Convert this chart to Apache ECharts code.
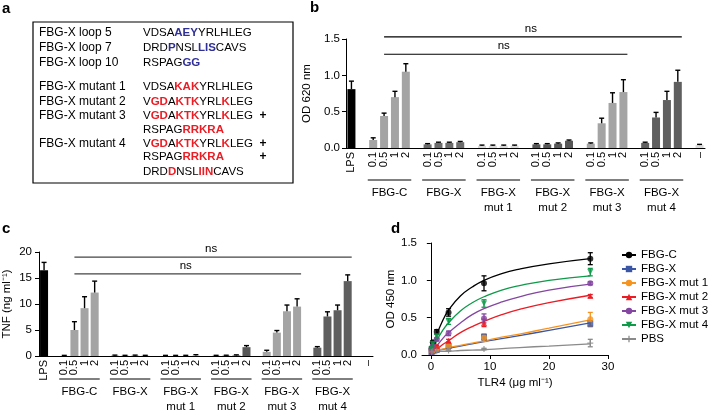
<!DOCTYPE html>
<html>
<head>
<meta charset="utf-8">
<script src="https://cdn.jsdelivr.net/npm/echarts@6.0.0/dist/echarts.min.js"></script>
<style>
html,body{margin:0;padding:0;background:#fff;}
#chart{width:711px;height:412px;}
</style>
</head>
<body>
<div id="chart"></div>
<script>
// ================= DATA =================
// Panel a – sequence table
const seqLabels = ['FBG-X loop 5', 'FBG-X loop 7', 'FBG-X loop 10', 'FBG-X mutant 1', 'FBG-X mutant 2',
  'FBG-X mutant 3', '', 'FBG-X mutant 4', '', ''];
const seqTexts = [
  '{k|VDSA}{b|AEY}{k|YRLHLEG}',
  '{k|DRD}{b|P}{k|NSL}{b|LIS}{k|CAVS}',
  '{k|RSPAG}{b|GG}',
  '{k|VDSA}{r|KAK}{k|YRLHLEG}',
  '{k|V}{r|GD}{k|A}{r|KTK}{k|YRL}{r|K}{k|LEG}',
  '{k|V}{r|GD}{k|A}{r|KTK}{k|YRL}{r|K}{k|LEG}',
  '{k|RSPAG}{r|RRKRA}',
  '{k|V}{r|GD}{k|A}{r|KTK}{k|YRL}{r|K}{k|LEG}',
  '{k|RSPAG}{r|RRKRA}',
  '{k|DRD}{r|D}{k|NSL}{r|IIN}{k|CAVS}'
];
const seqPlus = [false, false, false, false, false, true, false, true, true, false];

// Panels b and c – categories
const doseLabels = ['0.1', '0.5', '1', '2'];
const groupLabels = ['FBG-C', 'FBG-X', 'FBG-X\nmut 1', 'FBG-X\nmut 2', 'FBG-X\nmut 3', 'FBG-X\nmut 4'];
const lpsLabel = 'LPS';
const pbsLabel = '–';

// Panel b – OD 620 nm (mean and upper error)
const odLPS = 0.81, odLPSErr = 0.11;
const odPBS = 0.04, odPBSErr = 0.01;
const odFbgC = [0.11, 0.44, 0.70, 1.05];
const odFbgCErr = [0.03, 0.04, 0.08, 0.11];
const odFbgX = [0.05, 0.07, 0.07, 0.08];
const odFbgXErr = [0.01, 0.01, 0.01, 0.01];
const odMut1 = [0.03, 0.03, 0.03, 0.03];
const odMut1Err = [0.01, 0.01, 0.01, 0.01];
const odMut2 = [0.05, 0.05, 0.06, 0.10];
const odMut2Err = [0.01, 0.01, 0.01, 0.01];
const odMut3 = [0.06, 0.34, 0.62, 0.77];
const odMut3Err = [0.01, 0.07, 0.14, 0.17];
const odMut4 = [0.07, 0.42, 0.66, 0.91];
const odMut4Err = [0.01, 0.07, 0.12, 0.16];

// Panel c – TNF (ng/ml)
const tnfLPS = 16.5, tnfLPSErr = 1.5;
const tnfPBS = 0, tnfPBSErr = 0;
const tnfFbgC = [0.02, 5.0, 9.2, 12.2];
const tnfFbgCErr = [0.1, 1.6, 2.2, 2.2];
const tnfFbgX = [0.05, 0.03, 0.05, 0.03];
const tnfFbgXErr = [0.12, 0.1, 0.12, 0.1];
const tnfMut1 = [0.02, 0.02, 0.03, 0.1];
const tnfMut1Err = [0.1, 0.1, 0.1, 0.15];
const tnfMut2 = [0.03, 0.05, 0.1, 1.7];
const tnfMut2Err = [0.1, 0.1, 0.12, 0.3];
const tnfMut3 = [0.8, 4.5, 8.6, 9.5];
const tnfMut3Err = [0.3, 0.4, 1.2, 1.5];
const tnfMut4 = [1.6, 7.6, 8.8, 14.4];
const tnfMut4Err = [0.2, 0.9, 1.0, 1.2];

// Panel d – binding curves
const dNames = ['FBG-C', 'FBG-X', 'FBG-X mut 1', 'FBG-X mut 2', 'FBG-X mut 3', 'FBG-X mut 4', 'PBS'];
const tlr4Conc = [0.11, 0.33, 1, 3, 9, 27];
const dFbgC = [0.09, 0.17, 0.31, 0.57, 0.96, 1.29];
const dFbgCErr = [0.02, 0.02, 0.03, 0.05, 0.10, 0.08];
const dFbgX = [0.04, 0.05, 0.07, 0.12, 0.24, 0.42];
const dFbgXErr = [0.01, 0.01, 0.01, 0.02, 0.04, 0.04];
const dMut1 = [0.05, 0.06, 0.08, 0.12, 0.23, 0.48];
const dMut1Err = [0.01, 0.01, 0.02, 0.02, 0.05, 0.09];
const dMut2 = [0.05, 0.08, 0.12, 0.19, 0.43, 0.79];
const dMut2Err = [0.01, 0.01, 0.01, 0.02, 0.05, 0.02];
const dMut3 = [0.07, 0.12, 0.21, 0.29, 0.49, 0.96];
const dMut3Err = [0.01, 0.02, 0.02, 0.03, 0.06, 0.02];
const dMut4 = [0.08, 0.15, 0.25, 0.45, 0.69, 1.11];
const dMut4Err = [0.01, 0.02, 0.03, 0.04, 0.05, 0.05];
const dPBS = [0.04, 0.05, 0.05, 0.06, 0.08, 0.16];
const dPBSErr = [0.01, 0.01, 0.01, 0.01, 0.01, 0.05];
// fitted curves
const curveX = [0, 1, 2, 3, 5, 7, 9, 12, 15, 20, 27];
const curveFbgC = [0.0, 0.27, 0.46, 0.60, 0.79, 0.91, 1.00, 1.09, 1.15, 1.22, 1.29];
const curveFbgX = [0.05, 0.06, 0.075, 0.09, 0.12, 0.15, 0.18, 0.22, 0.26, 0.33, 0.43];
const curveMut1 = [0.05, 0.065, 0.08, 0.10, 0.13, 0.16, 0.19, 0.24, 0.28, 0.36, 0.47];
const curveMut2 = [0.0, 0.07, 0.14, 0.19, 0.30, 0.38, 0.45, 0.54, 0.61, 0.70, 0.80];
const curveMut3 = [0.0, 0.12, 0.22, 0.30, 0.43, 0.54, 0.62, 0.71, 0.78, 0.87, 0.95];
const curveMut4 = [0.0, 0.19, 0.33, 0.43, 0.59, 0.70, 0.78, 0.87, 0.93, 1.00, 1.06];
const curvePBS = [0.04, 0.045, 0.05, 0.05, 0.06, 0.065, 0.07, 0.085, 0.10, 0.12, 0.15];

// ================= BUILD =================
const FONT = '"Liberation Sans", Arial, Helvetica, sans-serif';
const chart = echarts.init(document.getElementById('chart'), null, {renderer: 'canvas'});

const cats = [lpsLabel];
groupLabels.forEach(() => { cats.push(''); doseLabels.forEach(d => cats.push(d)); });
cats.push('', pbsLabel);
const slotOf = (g, i) => 2 + 5 * g + i;
const pbsSlot = cats.length - 1;

const barColors = ['#a4a4a4', '#6c6c6c', '#d9d9d9', '#575757', '#a4a4a4', '#5f5f5f'];
const pbsColor = '#d9d9d9';

function barData(lps, groups, pbs) {
  const d = cats.map(() => '-');
  d[0] = {value: lps, itemStyle: {color: '#000'}};
  groups.forEach((g, gi) => g.forEach((v, i) => { d[slotOf(gi, i)] = {value: v, itemStyle: {color: barColors[gi]}}; }));
  d[pbsSlot] = {value: pbs, itemStyle: {color: pbsColor}};
  return d;
}
function errData(lps, lpsE, groups, errs, pbs, pbsE) {
  const d = [[0, lps, lpsE]];
  groups.forEach((g, gi) => g.forEach((v, i) => d.push([slotOf(gi, i), v, errs[gi][i]])));
  d.push([pbsSlot, pbs, pbsE]);
  return d;
}
function upperErr(params, api) {
  const x = api.value(0), v = api.value(1), e = api.value(2);
  if (!(e > 0)) return null;
  const a = api.coord([x, v]), b = api.coord([x, v + e]);
  const st = {stroke: '#000', lineWidth: 1.4};
  return {type: 'group', children: [
    {type: 'line', shape: {x1: a[0], y1: a[1], x2: b[0], y2: b[1]}, style: st},
    {type: 'line', shape: {x1: b[0] - 2.5, y1: b[1], x2: b[0] + 2.5, y2: b[1]}, style: st}
  ]};
}
function twoSidedErr(color) {
  return function (params, api) {
    const x = api.value(0), v = api.value(1), e = api.value(2);
    const a = api.coord([x, v - e]), b = api.coord([x, v + e]);
    const st = {stroke: color, lineWidth: 1.3};
    return {type: 'group', children: [
      {type: 'line', shape: {x1: a[0], y1: a[1], x2: b[0], y2: b[1]}, style: st},
      {type: 'line', shape: {x1: b[0] - 2.5, y1: b[1], x2: b[0] + 2.5, y2: b[1]}, style: st},
      {type: 'line', shape: {x1: a[0] - 2.5, y1: a[1], x2: a[0] + 2.5, y2: a[1]}, style: st}
    ]};
  };
}

const axisLine = {lineStyle: {color: '#000', width: 1}};
const lbl = {color: '#000', fontFamily: FONT, fontSize: 11.5};

function catAxis(gridIndex) {
  return {
    type: 'category', gridIndex, data: cats, boundaryGap: true,
    axisLine,
    axisTick: {alignWithLabel: true, interval: (i, v) => v !== '', length: 3, lineStyle: {color: '#000'}},
    axisLabel: {interval: 0, rotate: 90, color: '#000', fontFamily: FONT, fontSize: 11, margin: 4},
    splitLine: {show: false}
  };
}
function valAxis(gridIndex, max, interval, name, nameGap, fmt, margin) {
  return {
    type: 'value', gridIndex, min: 0, max, interval,
    name, nameLocation: 'middle', nameGap,
    nameTextStyle: {color: '#000', fontFamily: FONT, fontSize: 11.5},
    axisLine: {show: true, lineStyle: {color: '#000', width: 1}},
    axisTick: {show: true, length: 4, lineStyle: {color: '#000'}},
    axisLabel: Object.assign({margin, formatter: fmt}, lbl),
    splitLine: {show: false}
  };
}

const bGroups = [odFbgC, odFbgX, odMut1, odMut2, odMut3, odMut4];
const bErrs = [odFbgCErr, odFbgXErr, odMut1Err, odMut2Err, odMut3Err, odMut4Err];
const cGroups = [tnfFbgC, tnfFbgX, tnfMut1, tnfMut2, tnfMut3, tnfMut4];
const cErrs = [tnfFbgCErr, tnfFbgXErr, tnfMut1Err, tnfMut2Err, tnfMut3Err, tnfMut4Err];

const dColors = ['#000000', '#3a56a5', '#f7941d', '#ec1c24', '#8446a0', '#0e9a48', '#8a8a8a'];
const dSymbols = ['circle', 'rect', 'circle', 'triangle', 'circle', 'path://M0,0 L10,0 L5,9 Z',
  'path://M4,0 L6,0 L6,4 L10,4 L10,6 L6,6 L6,10 L4,10 L4,6 L0,6 L0,4 L4,4 Z'];
const dPoints = [dFbgC, dFbgX, dMut1, dMut2, dMut3, dMut4, dPBS];
const dErrs = [dFbgCErr, dFbgXErr, dMut1Err, dMut2Err, dMut3Err, dMut4Err, dPBSErr];
const dCurves = [curveFbgC, curveFbgX, curveMut1, curveMut2, curveMut3, curveMut4, curvePBS];

const series = [
  {type: 'bar', xAxisIndex: 0, yAxisIndex: 0, barWidth: 8, data: barData(odLPS, bGroups, odPBS), silent: true},
  {type: 'custom', xAxisIndex: 0, yAxisIndex: 0, renderItem: upperErr, encode: {x: 0, y: 1},
    data: errData(odLPS, odLPSErr, bGroups, bErrs, odPBS, odPBSErr), z: 3},
  {type: 'bar', xAxisIndex: 1, yAxisIndex: 1, barWidth: 8, data: barData(tnfLPS, cGroups, tnfPBS), silent: true},
  {type: 'custom', xAxisIndex: 1, yAxisIndex: 1, renderItem: upperErr, encode: {x: 0, y: 1},
    data: errData(tnfLPS, tnfLPSErr, cGroups, cErrs, tnfPBS, tnfPBSErr), z: 3}
];
dNames.forEach((name, k) => {
  series.push({
    type: 'line', name, xAxisIndex: 2, yAxisIndex: 2, smooth: true, showSymbol: false,
    symbol: dSymbols[k], symbolSize: 6, color: dColors[k],
    lineStyle: {color: dColors[k], width: 1.3},
    data: curveX.map((x, i) => [x, dCurves[k][i]]), z: 2
  });
});
dNames.forEach((name, k) => {
  series.push({
    type: 'custom', xAxisIndex: 2, yAxisIndex: 2, renderItem: twoSidedErr(dColors[k]), encode: {x: 0, y: 1},
    data: tlr4Conc.map((x, i) => [x, dPoints[k][i], dErrs[k][i]]), z: 3
  });
  series.push({
    type: 'scatter', name, xAxisIndex: 2, yAxisIndex: 2, symbol: dSymbols[k], symbolSize: 6,
    itemStyle: {color: dColors[k]}, data: tlr4Conc.map((x, i) => [x, dPoints[k][i]]), z: 4
  });
});

const option = {
  animation: false,
  backgroundColor: '#fff',
  textStyle: {fontFamily: FONT},
  grid: [
    {left: 346, top: 39, width: 359, height: 109, outerBoundsMode: 'none'},
    {left: 39, top: 252, width: 334, height: 104, outerBoundsMode: 'none'},
    {left: 422, top: 243, width: 186, height: 112, outerBoundsMode: 'none'}
  ],
  xAxis: [
    catAxis(0),
    catAxis(1),
    {
      type: 'value', gridIndex: 2, min: -1.5, max: 30,
      name: 'TLR4 (μg ml⁻¹)', nameLocation: 'middle', nameGap: 22,
      nameTextStyle: {color: '#000', fontFamily: FONT, fontSize: 11.5},
      axisLine: {show: true, onZero: false, lineStyle: {color: '#000', width: 1}},
      axisTick: {show: true, length: 4, customValues: [0, 10, 20, 30], lineStyle: {color: '#000'}},
      axisLabel: Object.assign({margin: 6, customValues: [0, 10, 20, 30]}, lbl),
      splitLine: {show: false}
    }
  ],
  yAxis: [
    valAxis(0, 1.5, 0.5, 'OD 620 nm', 24, v => v.toFixed(1), 6),
    valAxis(1, 20, 5, 'TNF (ng ml⁻¹)', 26, v => String(v), 7),
    valAxis(2, 1.5, 0.5, 'OD 450 nm', 23, v => v.toFixed(1), 5)
  ],
  legend: {
    data: dNames, orient: 'vertical', left: 616, top: 243,
    itemWidth: 14, itemHeight: 8, itemGap: 0,
    textStyle: {color: '#000', fontFamily: FONT, fontSize: 11.5, lineHeight: 14},
    selectedMode: false
  },
  series
};
chart.setOption(option);

// ================= ANNOTATIONS =================
const px = (g, x, y) => chart.convertToPixel({xAxisIndex: g, yAxisIndex: g}, [x, y]);
const G = [];
function addText(text, x, y, opts) {
  G.push({type: 'text', silent: true, style: Object.assign({
    text, x, y, fill: '#000', font: '11.5px ' + FONT,
    textAlign: 'center', textVerticalAlign: 'middle', align: 'center', verticalAlign: 'middle'
  }, opts || {})});
}
function addLine(x1, y1, x2, y2, color, w) {
  G.push({type: 'line', silent: true, shape: {x1, y1, x2, y2}, style: {stroke: color || '#000', lineWidth: w || 1}});
}

// Panel letters
const letter = {font: 'bold 15px ' + FONT, textAlign: 'left', align: 'left'};
addText('a', 2, 9, letter);
addText('b', 310, 8, letter);
addText('c', 2, 229, letter);
addText('d', 391, 229, letter);

// Panel a box and sequences
G.push({type: 'rect', silent: true, shape: {x: 33, y: 22, width: 260, height: 161},
  style: {fill: 'none', stroke: '#000', lineWidth: 1.2}});
const rowY = [33, 48, 63, 87, 102, 116, 130, 144, 157, 172];
const seqRich = {
  k: {fill: '#000', fontFamily: FONT, fontSize: 11.5},
  b: {fill: '#2f2f98', fontFamily: FONT, fontSize: 11.5, fontWeight: 'bold'},
  r: {fill: '#ec1c24', fontFamily: FONT, fontSize: 11.5, fontWeight: 'bold'}
};
seqLabels.forEach((t, i) => {
  if (t) addText(t, 39, rowY[i], {textAlign: 'left', align: 'left', font: '12px ' + FONT});
  G.push({type: 'text', silent: true, style: {
    text: seqTexts[i], x: 143, y: rowY[i], rich: seqRich,
    textAlign: 'left', align: 'left', textVerticalAlign: 'middle', verticalAlign: 'middle',
    font: '11.5px ' + FONT}});
  if (seqPlus[i]) addText('+', 263, rowY[i], {font: 'bold 12px ' + FONT});
});

// ns brackets and group underlines for panels b and c
function annotate(g, yTop, yMid, lineColor, ulOff, lblOff) {
  const slotW = px(g, 1, 0)[0] - px(g, 0, 0)[0];
  const xs = px(g, slotOf(0, 1), 0)[0];
  const top = px(g, slotOf(5, 3), yTop), mid = px(g, slotOf(4, 3), yMid);
  addLine(xs, top[1], top[0] + 4, top[1], lineColor, 1.2);
  addLine(xs, mid[1], mid[0] + 4, mid[1], lineColor, 1.2);
  addText('ns', (xs + top[0]) / 2, top[1] - 8);
  addText('ns', (xs + mid[0]) / 2, mid[1] - 8);
  const axisY = px(g, 0, 0)[1];
  groupLabels.forEach((name, gi) => {
    const a = px(g, slotOf(gi, 0), 0)[0] - slotW * 0.5;
    const b = px(g, slotOf(gi, 3), 0)[0] + slotW * 0.5;
    addLine(a, axisY + ulOff, b, axisY + ulOff, '#000', 1);
    addText(name, (a + b) / 2, axisY + lblOff, {textVerticalAlign: 'top', verticalAlign: 'top', lineHeight: 15});
  });
}
annotate(0, 1.53, 1.29, '#000', 32, 37);
annotate(1, 19.0, 15.8, '#444', 23, 28);

chart.setOption({graphic: G});
</script>
</body>
</html>
